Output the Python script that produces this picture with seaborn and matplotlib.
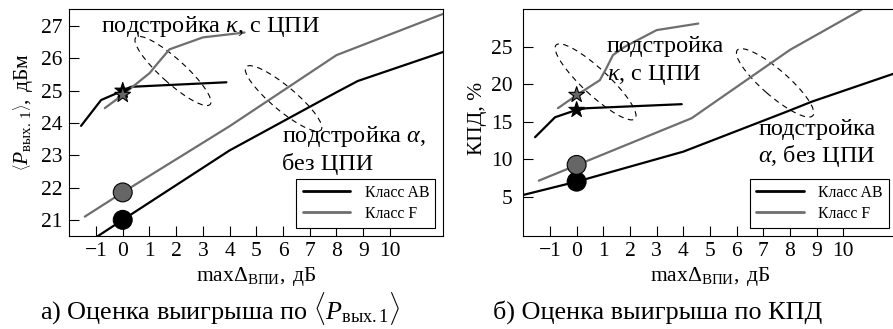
import matplotlib
matplotlib.use("Agg")
import matplotlib.pyplot as plt
import matplotlib.transforms as mtransforms
from matplotlib.patches import Ellipse
from matplotlib.lines import Line2D
import pandas as pd
import seaborn as sns

sns.set_style("white", {"axes.edgecolor": "black", "text.color": "black",
                        "xtick.color": "black", "ytick.color": "black",
                        "axes.labelcolor": "black"})
plt.rcParams["font.family"] = ["Liberation Serif", "DejaVu Serif"]
plt.rcParams["mathtext.fontset"] = "custom"
plt.rcParams["mathtext.rm"] = "Liberation Serif"
plt.rcParams["mathtext.it"] = "Liberation Serif:italic"
plt.rcParams["mathtext.bf"] = "Liberation Serif:bold"
plt.rcParams["axes.unicode_minus"] = True

# ---------------- panel (a): mean output power, dBm ----------------
pout_ab_alpha_x = [-1.0, 0.0, 4.0, 8.0, 8.8, 12.0]
pout_ab_alpha_y = [20.46, 21.0, 23.15, 24.95, 25.3, 26.2]
pout_f_alpha_x = [-1.42, 0.0, 4.0, 8.0, 12.0]
pout_f_alpha_y = [21.1, 21.85, 23.9, 26.1, 27.38]
pout_ab_kappa_x = [-1.56, -0.81, 0.0, 0.31, 3.88]
pout_ab_kappa_y = [23.91, 24.71, 25.0, 25.12, 25.26]
pout_f_kappa_x = [-0.67, 0.0, 0.31, 1.0, 1.31, 1.75, 3.0, 4.56]
pout_f_kappa_y = [24.46, 24.87, 25.08, 25.54, 25.85, 26.28, 26.65, 26.8]
pout_base = [21.0, 21.85]      # AB, F without tuning (0 dB)
pout_star = [25.0, 24.87]      # AB, F with kappa tuning

# ---------------- panel (b): efficiency, % ----------------
eff_ab_alpha_x = [-2.0, 0.0, 4.0, 7.88, 8.82, 12.0]
eff_ab_alpha_y = [5.27, 7.04, 11.04, 16.37, 17.7, 21.56]
eff_f_alpha_x = [-1.42, 0.0, 4.31, 8.0, 12.0]
eff_f_alpha_y = [7.17, 9.23, 15.49, 24.6, 32.6]
eff_ab_kappa_x = [-1.56, -0.81, 0.0, 0.36, 3.94]
eff_ab_kappa_y = [12.96, 15.62, 16.6, 16.82, 17.36]
eff_f_kappa_x = [-0.7, 0.0, 0.87, 1.11, 1.36, 1.8, 3.0, 4.56]
eff_f_kappa_y = [16.83, 18.56, 20.56, 22.12, 23.89, 25.0, 27.23, 28.1]
eff_base = [7.04, 9.27]
eff_star = [16.6, 18.6]

classes = ["Класс AB", "Класс F"]
x_ticks = list(range(-1, 11))
pout_ticks = list(range(21, 28))
eff_ticks = [5, 10, 15, 20, 25]

# dashed ellipses marking the two tuning regions: centre (data), length/width (px), angle
ell_a = [(1.88, 25.61, 100, 24, -42), (6.02, 24.76, 98, 24, -40)]
ell_b = [(0.71, 20.33, 108, 26, -43), (7.44, 20.2, 100, 26, -41)]

BLACK = "black"
GRAY = "#6e6e6e"
LW = 1.6
TICK_FS = 15.5
ANN_FS = 17.5
CAP_FS = 18.8
LEG_FS = 11.4

fig = plt.figure(figsize=(8.93, 3.29), dpi=100)
W, H = 893.0, 329.0
ax1 = fig.add_axes([69.3 / W, (H - 236) / H, 374.0 / W, 226.7 / H])
ax2 = fig.add_axes([523.3 / W, (H - 236) / H, 373.4 / W, 226.7 / H])


def draw_line(ax, xs, ys, color):
    df = pd.DataFrame({"x": xs, "y": ys})
    sns.lineplot(data=df, x="x", y="y", ax=ax, color=color, linewidth=LW,
                 estimator=None, sort=False, legend=False)


def dashed_ellipse(ax, cx, cy, length, width, angle):
    tr = fig.dpi_scale_trans + mtransforms.ScaledTranslation(cx, cy, ax.transData)
    ax.add_patch(Ellipse((0, 0), length / 100.0, width / 100.0, angle=angle,
                         transform=tr, fill=False, ec="black", lw=0.8,
                         ls=(0, (5, 4)), zorder=1.5))


def panel(ax, ab_a, f_a, ab_k, f_k, base, star, ells, ylim, yticks, ylabel, ycoords, ypad):
    draw_line(ax, *ab_a, BLACK)
    draw_line(ax, *f_a, GRAY)
    draw_line(ax, *ab_k, BLACK)
    draw_line(ax, *f_k, GRAY)
    pts = pd.DataFrame({"x": [0.0, 0.0], "y": base, "cls": classes})
    sns.scatterplot(data=pts, x="x", y="y", hue="cls", palette=[BLACK, "#666666"],
                    s=185, marker="o", edgecolor="black", linewidth=0.8,
                    ax=ax, legend=False, zorder=5)
    st = pd.DataFrame({"x": [0.0, 0.0], "y": star, "cls": classes})
    sns.scatterplot(data=st, x="x", y="y", hue="cls", palette=[BLACK, "#666666"],
                    s=140, marker="*", edgecolor="black", linewidth=0.8,
                    ax=ax, legend=False, zorder=5)
    for e in ells:
        dashed_ellipse(ax, *e)
    ax.set_xlim(-2, 12)
    ax.set_ylim(*ylim)
    ax.set_xticks(x_ticks)
    ax.set_yticks(yticks)
    ax.tick_params(axis="both", direction="in", length=7, width=0.8,
                   labelsize=TICK_FS, bottom=True, left=True, top=False, right=False)
    ax.tick_params(axis="x", pad=4)
    ax.tick_params(axis="y", pad=ypad)
    for sp in ax.spines.values():
        sp.set_linewidth(0.8)
        sp.set_color("black")
    ax.set_xlabel(r"$\max\Delta_{\mathrm{ВПИ}},\;$дБ", fontsize=TICK_FS)
    ax.xaxis.set_label_coords(0.5, -0.128)
    ax.set_ylabel(ylabel, fontsize=TICK_FS)
    ax.yaxis.set_label_coords(*ycoords)
    handles = [Line2D([], [], color=BLACK, lw=2.0), Line2D([], [], color=GRAY, lw=2.0)]
    leg = ax.legend(handles, classes, loc="lower right", fontsize=LEG_FS,
                    frameon=True, fancybox=False, framealpha=1, edgecolor="black",
                    handlelength=3.0, handletextpad=0.9, borderaxespad=0.5,
                    labelspacing=0.3, borderpad=0.4)
    leg.get_frame().set_linewidth(0.8)


panel(ax1, (pout_ab_alpha_x, pout_ab_alpha_y), (pout_f_alpha_x, pout_f_alpha_y),
      (pout_ab_kappa_x, pout_ab_kappa_y), (pout_f_kappa_x, pout_f_kappa_y),
      pout_base, pout_star, ell_a, (20.5, 27.52), pout_ticks,
      r"$\left\langle P_{\mathrm{вых.\,1}} \right\rangle,\;$дБм", (-0.092, 0.547), 5)
panel(ax2, (eff_ab_alpha_x, eff_ab_alpha_y), (eff_f_alpha_x, eff_f_alpha_y),
      (eff_ab_kappa_x, eff_ab_kappa_y), (eff_f_kappa_x, eff_f_kappa_y),
      eff_base, eff_star, ell_b, (-0.2, 30.0), eff_ticks,
      "КПД, %", (-0.097, 0.518), 8)

ax1.text(-0.8, 26.82, r"подстройка $\kappa$, с ЦПИ", fontsize=ANN_FS, va="baseline", ha="left")
ax1.text(5.98, 23.42, r"подстройка $\alpha$,", fontsize=ANN_FS, va="baseline", ha="left")
ax1.text(5.98, 22.55, "без ЦПИ", fontsize=ANN_FS, va="baseline", ha="left")
ax2.text(1.12, 24.33, "подстройка", fontsize=ANN_FS, va="baseline", ha="left")
ax2.text(1.12, 20.56, r"$\kappa$, с ЦПИ", fontsize=ANN_FS, va="baseline", ha="left")
ax2.text(6.81, 13.22, "подстройка", fontsize=ANN_FS, va="baseline", ha="left")
ax2.text(6.81, 9.67, r"$\alpha$, без ЦПИ", fontsize=ANN_FS, va="baseline", ha="left")

fig.text(220 / W, (H - 319) / H, r"а) Оценка выигрыша по $\langle P_{\mathrm{вых.1}}\rangle$",
         fontsize=CAP_FS, ha="center", va="baseline")
fig.text(658 / W, (H - 319) / H, "б) Оценка выигрыша по КПД",
         fontsize=CAP_FS, ha="center", va="baseline")

fig.savefig("out.png", dpi=100)
